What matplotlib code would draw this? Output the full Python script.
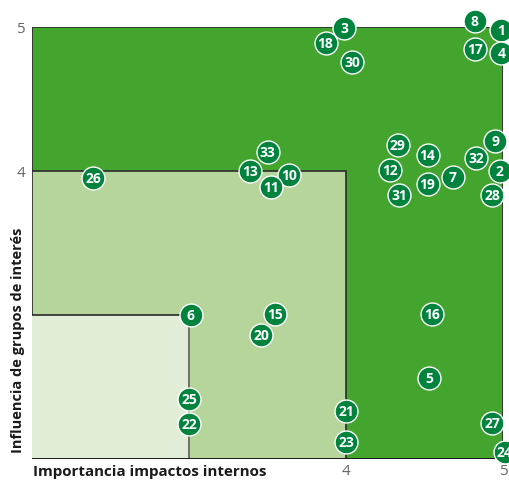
import matplotlib
matplotlib.use("Agg")
import matplotlib.pyplot as plt
from matplotlib.patches import Rectangle

labels = [1, 2, 3, 4, 5, 6, 7, 8, 9, 10, 11, 12, 13, 14, 15, 16, 17,
          18, 19, 20, 21, 22, 23, 24, 25, 26, 27, 28, 29, 30, 31, 32, 33]
x_vals = [4.99, 4.98, 3.99, 4.99, 4.53, 3.01, 4.68, 4.82, 4.95, 3.64, 3.52,
          4.28, 3.39, 4.52, 3.55, 4.55, 4.82, 3.87, 4.52, 3.46, 4.00, 3.00,
          4.00, 5.01, 3.00, 2.39, 4.93, 4.93, 4.33, 4.04, 4.34, 4.83, 3.50]
y_vals = [4.98, 4.00, 4.99, 4.82, 2.56, 3.00, 3.96, 5.04, 4.21, 3.97, 3.89,
          4.01, 4.00, 4.11, 3.01, 3.01, 4.85, 4.89, 3.91, 2.86, 2.33, 2.24,
          2.12, 2.05, 2.42, 3.95, 2.25, 3.83, 4.18, 4.76, 3.83, 4.09, 4.13]
x_ticks = [4, 5]
y_ticks = [4, 5]
x_title = "Importancia impactos internos"
y_title = "Influencia de grupos de interés"

W, H = 509, 481
fig = plt.figure(figsize=(W / 100, H / 100), dpi=100)
L, R, T, B = 32, 503, 28, 460
ax = fig.add_axes([L / W, 1 - B / H, (R - L) / W, (B - T) / H])
ax.set_xlim(2, 5)
ax.set_ylim(2, 5)
for s in ax.spines.values():
    s.set_visible(False)

dark = "#43a52e"
mid = "#b5d59b"
light = "#e2edd8"
edge = "#2b2b2b"
ax.add_patch(Rectangle((2, 2), 3, 3, facecolor=dark, edgecolor=edge, lw=1.2, zorder=1))
ax.add_patch(Rectangle((2, 2), 2, 2, facecolor=mid, edgecolor=edge, lw=1.2, zorder=2))
ax.add_patch(Rectangle((2, 2), 1, 1, facecolor=light, edgecolor="none", lw=0, zorder=3))
ax.plot([2, 3], [3, 3], color="#1a1a1a", lw=1.1, zorder=4)
ax.plot([3, 3], [2, 3], color="#6f6f6f", lw=1.4, zorder=4)
ax.plot([2, 5], [2, 2], color="#1a1a1a", lw=1.4, zorder=4)

ax.scatter(x_vals, y_vals, s=16.5 ** 2, c="#00843d", edgecolors="white",
           linewidths=1.0, zorder=5, clip_on=False)
for lab, xv, yv in zip(labels, x_vals, y_vals):
    ax.text(xv, yv, str(lab), color="white", fontsize=10, fontweight="bold",
            family="Open Sans", ha="center", va="center", zorder=6, clip_on=False)

ax.set_xticks(x_ticks)
ax.set_yticks(y_ticks)
ax.set_xticklabels([str(t) for t in x_ticks], family="Open Sans", fontsize=11, color="#666666")
ax.set_yticklabels([str(t) for t in y_ticks], family="Open Sans", fontsize=11, color="#666666")
ax.tick_params(axis="x", length=0, pad=3)
ax.tick_params(axis="y", length=0, pad=5)

fig.text(33 / W, 1 - 472 / H, x_title, ha="left", va="center", fontsize=10.9,
         fontweight="bold", family="Open Sans", color="#1a1a1a")
fig.text(18 / W, 1 - 453 / H, y_title, ha="center", va="bottom", rotation=90,
         fontsize=10.5, fontweight="bold", family="Open Sans", color="#1a1a1a")

fig.savefig("out.png", dpi=100)
